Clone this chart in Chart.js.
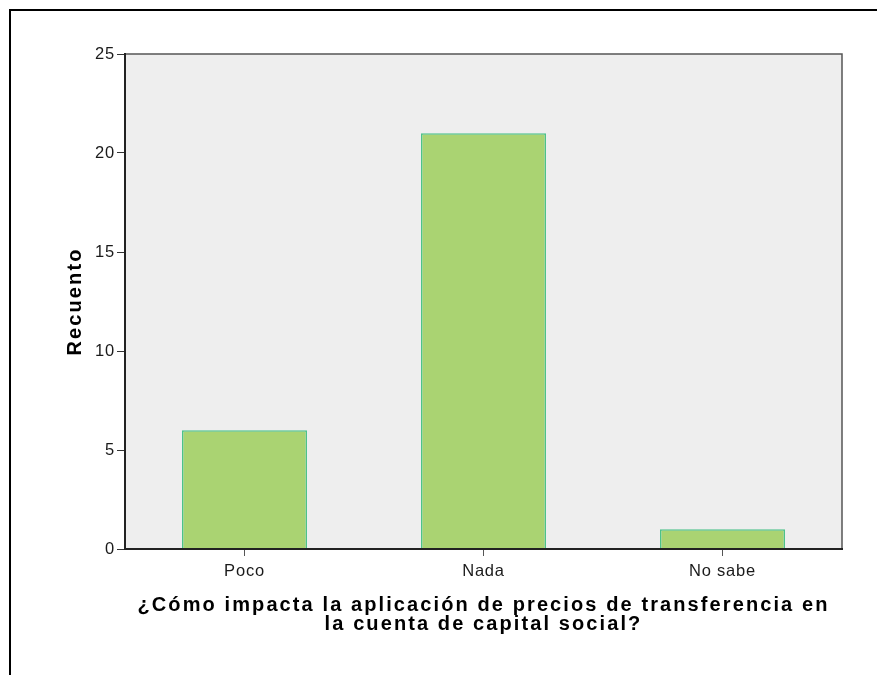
<!DOCTYPE html>
<html>
  <head>
    <meta charset="utf-8" />
    <title>Recuento</title>
    <script src="https://cdn.jsdelivr.net/npm/chart.js"></script>
    <style>
      body {
        margin: 0;
        background: #ffffff;
      }
      .frame {
        position: absolute;
        left: 9px;
        top: 9px;
        right: 0;
        bottom: 0;
        border-left: 2px solid #000;
        border-top: 2px solid #000;
      }
      #myChart {
        position: absolute;
        left: 0;
        top: 0;
      }
    </style>
  </head>
  <body>
    <canvas id="myChart" width="877" height="675"></canvas>
    <div class="frame"></div>

    <script>
      const categories = ["Poco", "Nada", "No sabe"];
      const counts = [6, 21, 1];
      const yTicks = [0, 5, 10, 15, 20, 25];
      const xTitle = [
        "¿Cómo impacta la aplicación de precios de transferencia en",
        "la cuenta de capital social?",
      ];
      const yTitle = "Recuento";

      // wide letter spacing like the original: titles are drawn before the
      // bars, tick labels (z: 1) after them
      const spacing = {
        id: "spacing",
        beforeDraw(chart) {
          chart.ctx.letterSpacing = "2.1px";
        },
        beforeDatasetsDraw(chart) {
          const { ctx, chartArea: a } = chart;
          ctx.save();
          ctx.fillStyle = "#eeeeee";
          ctx.fillRect(a.left, a.top, a.right - a.left, a.bottom - a.top);
          ctx.strokeStyle = "#555555";
          ctx.lineWidth = 1.5;
          ctx.beginPath();
          ctx.moveTo(a.left, a.top);
          ctx.lineTo(a.right, a.top);
          ctx.lineTo(a.right, a.bottom);
          ctx.stroke();
          ctx.restore();
          ctx.letterSpacing = "0.8px";
        },
      };

      const ctx = document.getElementById("myChart").getContext("2d");
      new Chart(ctx, {
        type: "bar",
        data: {
          labels: categories,
          datasets: [
            {
              data: counts,
              backgroundColor: "#aad372",
              borderColor: "#4cc28a",
              borderWidth: 1.5,
              categoryPercentage: 1,
              barPercentage: 0.523,
            },
          ],
        },
        options: {
          responsive: false,
          animation: false,
          layout: { padding: { top: 54, right: 35, left: 0, bottom: 0 } },
          plugins: { legend: { display: false }, tooltip: { enabled: false } },
          scales: {
            x: {
              afterFit: (s) => { s.height = 126; },
              grid: {
                offset: false,
                drawOnChartArea: false,
                tickLength: 7,
                color: "#555",
              },
              border: { color: "#222", width: 2, z: 1 },
              ticks: {
                z: 1,
                padding: 6,
                color: "#1a1a1a",
                font: { family: "Liberation Sans", size: 16.5 },
              },
              title: {
                display: true,
                text: xTitle,
                color: "#000",
                padding: { top: 0, bottom: 41 },
                font: { family: "Liberation Sans", size: 20, weight: "bold", lineHeight: 0.95 },
              },
            },
            y: {
              min: 0,
              max: 25,
              afterFit: (s) => { s.width = 125; },
              afterBuildTicks: (s) => { s.ticks = yTicks.map((v) => ({ value: v })); },
              grid: {
                drawOnChartArea: false,
                tickLength: 8,
                color: "#333",
              },
              border: { color: "#222", width: 2, z: 1 },
              ticks: {
                z: 1,
                padding: 2,
                color: "#1a1a1a",
                font: { family: "Liberation Sans", size: 16.5 },
              },
              title: {
                display: true,
                text: yTitle,
                color: "#000",
                padding: { top: 63, bottom: 0 },
                font: { family: "Liberation Sans", size: 20, weight: "bold" },
              },
            },
          },
        },
        plugins: [spacing],
      });
    </script>
  </body>
</html>
